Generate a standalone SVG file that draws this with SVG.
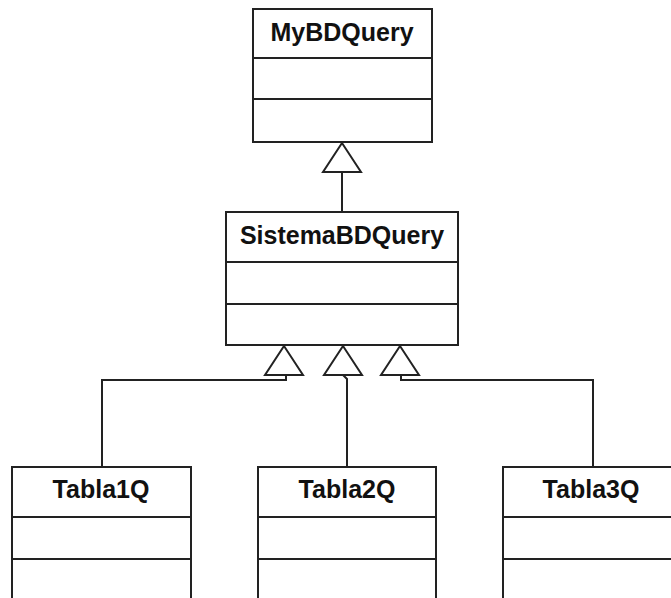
<svg xmlns="http://www.w3.org/2000/svg" width="671" height="598" viewBox="0 0 671 598">
<style>
.box{fill:#fff;stroke:#222;stroke-width:2}
.div{stroke:#222;stroke-width:2}
.lbl{font-family:"Liberation Sans",Arial,sans-serif;font-weight:bold;font-size:25px;fill:#111;text-anchor:middle}
.con{fill:none;stroke:#222;stroke-width:2}
.tri{fill:#fff;stroke:#222;stroke-width:2;stroke-linejoin:miter}
</style>
<rect width="671" height="598" fill="#fff"/>
<g id="connectors">
<path class="con" d="M342,212 V172"/>
<polygon class="tri" points="342,143 323,172 361,172"/>
<path class="con" d="M102,467 V380 H286 V375"/>
<path class="con" d="M347,467 V379 L343,375"/>
<path class="con" d="M593,467 V380 H401 V375"/>
<polygon class="tri" points="284,346 265,375 303,375"/>
<polygon class="tri" points="343,346 324,375 362,375"/>
<polygon class="tri" points="400,346 381,375 419,375"/>
</g>
<g id="MyBDQuery">
<rect class="box" x="253" y="9" width="179" height="133"/>
<line class="div" x1="253" y1="58" x2="432" y2="58"/>
<line class="div" x1="253" y1="99" x2="432" y2="99"/>
<text class="lbl" x="342" y="41">MyBDQuery</text>
</g>
<g id="SistemaBDQuery">
<rect class="box" x="226" y="212" width="232" height="133"/>
<line class="div" x1="226" y1="262" x2="458" y2="262"/>
<line class="div" x1="226" y1="304" x2="458" y2="304"/>
<text class="lbl" x="342" y="244">SistemaBDQuery</text>
</g>
<g id="Tabla1Q">
<rect class="box" x="12" y="467" width="179" height="140"/>
<line class="div" x1="12" y1="517" x2="191" y2="517"/>
<line class="div" x1="12" y1="559" x2="191" y2="559"/>
<text class="lbl" x="101" y="498">Tabla1Q</text>
</g>
<g id="Tabla2Q">
<rect class="box" x="258" y="467" width="178" height="140"/>
<line class="div" x1="258" y1="517" x2="436" y2="517"/>
<line class="div" x1="258" y1="559" x2="436" y2="559"/>
<text class="lbl" x="347" y="498">Tabla2Q</text>
</g>
<g id="Tabla3Q">
<rect class="box" x="503" y="467" width="178" height="140"/>
<line class="div" x1="503" y1="517" x2="681" y2="517"/>
<line class="div" x1="503" y1="559" x2="681" y2="559"/>
<text class="lbl" x="591" y="498">Tabla3Q</text>
</g>
</svg>
